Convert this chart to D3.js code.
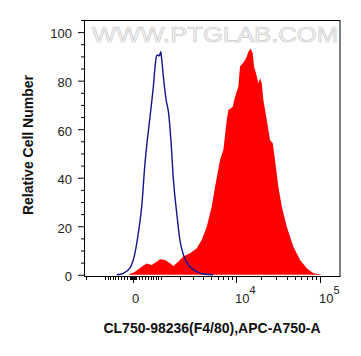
<!DOCTYPE html>
<html>
<head>
<meta charset="utf-8">
<script src="https://cdn.jsdelivr.net/npm/d3@7"></script>
<style>
body { margin: 0; background: #fff; }
svg { display: block; }
</style>
</head>
<body>
<svg></svg>
<script>
// control (isotype) histogram, blue outline
var controlX = [-552, -321, -98, 65, 174, 288, 400, 494, 577, 700, 804, 856, 938, 997, 1041, 1113, 1241, 1357, 1486, 1609, 1797, 1994, 2266, 2724, 3320, 4214, 5282];
var controlY = [0, 0.6, 2.8, 9.0, 17.2, 28.1, 46.1, 56.9, 65.1, 77.5, 89.2, 90.6, 90.2, 91.9, 88.5, 81.6, 72.0, 66.7, 54.3, 39.1, 25.5, 14.3, 7.5, 3.3, 1.3, 0.2, 0];

// stained sample histogram, red fill
var sampleX = [-154, 65, 288, 459, 639, 765, 968, 1192, 1448, 1609, 1890, 2216, 2724, 3320, 3829, 4421, 5096, 5589, 6425, 7045, 7737, 8087, 9133, 9731, 10653, 11165, 12034, 12823, 13432, 14041, 14997, 15846, 16419, 17351, 18475, 19359, 20279, 21199, 23267, 25465, 27425, 29206, 31978, 35109, 40283, 48266, 57993, 69680, 83483, 105124];
var sampleY = [0, 1.3, 3.3, 4.7, 4.0, 5.0, 6.4, 6.1, 4.7, 3.6, 5.4, 7.5, 8.9, 10.9, 14.3, 19.8, 28.1, 36.3, 47.3, 51.4, 63.8, 67.9, 69.3, 73.4, 77.5, 85.8, 87.2, 88.5, 89.9, 91.9, 93.3, 91.3, 85.8, 83.0, 78.9, 81.0, 78.9, 72.0, 63.8, 55.5, 54.2, 47.3, 36.3, 28.1, 19.8, 11.6, 6.1, 2.7, 0.6, 0];

var yMajor = [0, 20, 40, 60, 80, 100];
var xLabels = [{v: 0, base: "0", exp: ""}, {v: 10000, base: "10", exp: "4"}, {v: 100000, base: "10", exp: "5"}];
var xTitle = "CL750-98236(F4/80),APC-A750-A";
var yTitle = "Relative Cell Number";

var margin = {top: 20, right: 21, bottom: 80, left: 84},
	width = 361 - margin.left - margin.right,
	height = 356 - margin.top - margin.bottom;

var svg = d3.select("svg")
	.attr("width", 361)
	.attr("height", 356)
	.style("font-family", "'Liberation Sans', Arial, sans-serif")
	.append("g")
	.attr("transform", "translate(" + margin.left + "," + margin.top + ")");

// biexponential-like x axis (asinh)
var W = 1195;
var t = function(v) { return Math.asinh(v / W); };
var scaleT = d3.scaleLinear().domain([t(-2130), t(173000)]).range([0, width]);
var x = function(v) { return scaleT(t(v)); };

var y = d3.scaleLinear().domain([-0.5, 105]).range([height, 0]);

// watermark
svg.append("text")
	.attr("x", 8)
	.attr("y", 22)
	.attr("textLength", 246)
	.attr("lengthAdjust", "spacingAndGlyphs")
	.style("font-size", "22px")
	.style("fill", "#f6f6f6")
	.style("stroke", "#cccccc")
	.style("stroke-width", 0.7)
	.text("WWW.PTGLAB.COM");

// red filled histogram
var sample = sampleX.map(function(d, i) { return [d, sampleY[i]]; });
svg.append("path")
	.datum(sample)
	.attr("fill", "#ff0000")
	.attr("d", d3.area()
		.x(function(d) { return x(d[0]); })
		.y0(y(0))
		.y1(function(d) { return y(d[1]); }));

// blue control line
var control = controlX.map(function(d, i) { return [d, controlY[i]]; });
svg.append("path")
	.datum(control)
	.attr("fill", "none")
	.attr("stroke", "#14148c")
	.attr("stroke-width", 1.4)
	.attr("d", d3.line()
		.curve(d3.curveMonotoneX)
		.x(function(d) { return x(d[0]); })
		.y(function(d) { return y(d[1]); }));

// frame
svg.append("rect")
	.attr("x", 0.5)
	.attr("y", 0.5)
	.attr("width", width - 0.5)
	.attr("height", height)
	.attr("fill", "none")
	.attr("stroke", "#000")
	.attr("stroke-width", 1);

// y axis
var yAxis = svg.append("g")
	.call(d3.axisLeft(y).tickValues(yMajor).tickSize(6).tickPadding(6).tickFormat(d3.format("d")));
yAxis.select(".domain").remove();
yAxis.selectAll("text").style("font-size", "13px").style("fill", "#222").attr("dy", "0.45em");

var yMinor = svg.append("g")
	.call(d3.axisLeft(y).tickValues(d3.range(5, 106, 5).filter(function(d) { return d % 20 != 0; })).tickSize(3).tickFormat(""));
yMinor.select(".domain").remove();

// x ticks
var xMinorVals = [-2000, -1000]
	.concat(d3.range(-900, 0, 100))
	.concat(d3.range(-90, 100, 10))
	.concat(d3.range(100, 1000, 100))
	.concat(d3.range(1000, 10000, 1000))
	.concat(d3.range(20000, 100000, 10000));
var xMajorVals = [0, 10000, 100000];

svg.append("g").selectAll("line")
	.data(xMinorVals)
	.enter()
	.append("line")
	.attr("x1", function(d) { return Math.round(x(d)) + 0.5; })
	.attr("x2", function(d) { return Math.round(x(d)) + 0.5; })
	.attr("y1", height + 1)
	.attr("y2", height + 4)
	.attr("stroke", "#000");

svg.append("g").selectAll("line")
	.data(xMajorVals)
	.enter()
	.append("line")
	.attr("x1", function(d) { return Math.round(x(d)) + 0.5; })
	.attr("x2", function(d) { return Math.round(x(d)) + 0.5; })
	.attr("y1", height + 1)
	.attr("y2", height + 7)
	.attr("stroke", "#000");

// x labels
var lab = svg.append("g").selectAll("text")
	.data(xLabels)
	.enter()
	.append("text")
	.attr("x", function(d) { return x(d.v) - 1; })
	.attr("y", height + 27)
	.style("font-size", "13px")
	.style("fill", "#222");
lab.append("tspan").text(function(d) { return d.base; });
lab.append("tspan")
	.attr("dy", -9)
	.style("font-size", "11px")
	.text(function(d) { return d.exp; });

// axis titles
svg.append("text")
	.attr("x", 128)
	.attr("y", height + 57)
	.style("text-anchor", "middle")
	.style("font-size", "14px")
	.style("font-weight", "bold")
	.style("fill", "#111")
	.text(xTitle);

svg.append("text")
	.attr("transform", "translate(" + (33 - margin.left) + "," + 125 + ") rotate(-90)")
	.style("text-anchor", "middle")
	.style("font-size", "14px")
	.style("font-weight", "bold")
	.style("fill", "#111")
	.text(yTitle);
</script>
</body>
</html>
